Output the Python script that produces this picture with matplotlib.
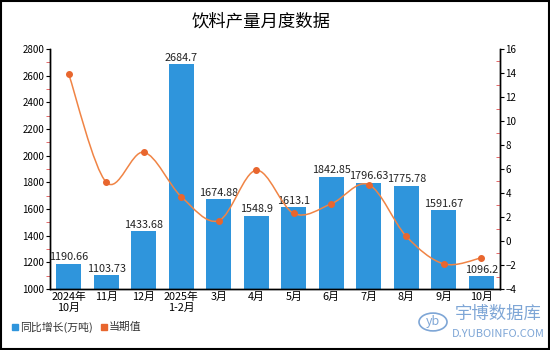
import matplotlib.pyplot as plt
import numpy as np
from matplotlib.path import Path
from matplotlib.patches import PathPatch, Rectangle, Circle
from matplotlib.ticker import MultipleLocator

plt.rcParams['font.family'] = ['Noto Sans CJK SC', 'DejaVu Sans']

months = ['2024年\n10月', '11月', '12月', '2025年\n1-2月', '3月', '4月',
          '5月', '6月', '7月', '8月', '9月', '10月']
output = [1190.66, 1103.73, 1433.68, 2684.7, 1674.88, 1548.9,
          1613.1, 1842.85, 1796.63, 1775.78, 1591.67, 1096.2]
growth = [13.9, 4.9, 7.4, 3.7, 1.7, 5.9, 2.3, 3.1, 4.7, 0.4, -1.9, -1.4]

BAR_COLOR = '#2f95dc'
LINE_COLOR = '#f08445'
DOT_COLOR = '#e8662e'


def smooth_path(xs, ys):
    """Bezier path through the points (Catmull-Rom style control points)."""
    pts = np.column_stack([xs, ys]).astype(float)
    verts = [pts[0]]
    codes = [Path.MOVETO]
    n = len(pts)
    for i in range(n - 1):
        p0 = pts[max(i - 1, 0)]
        p1 = pts[i]
        p2 = pts[i + 1]
        p3 = pts[min(i + 2, n - 1)]
        c1 = p1 + (p2 - p0) / 6
        c2 = p2 - (p3 - p1) / 6
        verts += [c1, c2, p2]
        codes += [Path.CURVE4] * 3
    return Path(verts, codes)


fig = plt.figure(figsize=(5.5, 3.5), dpi=100)
ax = fig.add_axes([0.0909, 0.174, 0.8182, 0.686])
ax2 = ax.twinx()

x = np.arange(len(months))
rects = ax.bar(x, output, width=0.66, color=BAR_COLOR, zorder=2)
for rect, val in zip(rects, output):
    ax.annotate('{:g}'.format(val),
                xy=(rect.get_x() + rect.get_width() / 2, rect.get_height()),
                xytext=(0, 1), textcoords='offset points',
                ha='center', va='bottom', fontsize=7.8, color='#222222')

ax.set_xlim(-0.5, len(months) - 0.5)
ax.set_ylim(1000, 2800)
ax.yaxis.set_major_locator(MultipleLocator(200))
ax.yaxis.set_minor_locator(MultipleLocator(100))
ax.set_xticks(x)
ax.set_xticklabels(months, fontsize=7.8, linespacing=1.1)
ax.tick_params(axis='x', length=0, pad=2)
ax.tick_params(axis='y', which='major', length=3, labelsize=7, pad=1)
ax.tick_params(axis='y', which='minor', length=3, color='#e05050')

ax2.add_patch(PathPatch(smooth_path(x, growth), fill=False,
                        edgecolor=LINE_COLOR, linewidth=1.1, zorder=3))
ax2.plot(x, growth, 'o', color=DOT_COLOR, markersize=4, zorder=4)
ax2.set_ylim(-4, 16)
ax2.yaxis.set_major_locator(MultipleLocator(2))
ax2.yaxis.set_minor_locator(MultipleLocator(1))
ax2.tick_params(axis='y', which='major', length=3, labelsize=7, pad=1)
ax2.tick_params(axis='y', which='minor', length=3, direction='in',
                color='#e05050')

for a in (ax, ax2):
    a.spines['top'].set_visible(False)
    for s in a.spines.values():
        s.set_linewidth(1)

fig.text(0.475, 0.937, '饮料产量月度数据', ha='center', va='center', fontsize=12.5)

# legend
fig.patches.append(Rectangle((12 / 550, 1 - 330 / 350), 6 / 550, 6 / 350,
                             transform=fig.transFigure, color=BAR_COLOR))
fig.text(20 / 550, 1 - 327 / 350, '同比增长(万吨)', va='center', fontsize=7.8,
         color='#333333')
fig.patches.append(Rectangle((101 / 550, 1 - 330 / 350), 6 / 550, 6 / 350,
                             transform=fig.transFigure, color=DOT_COLOR))
fig.text(109 / 550, 1 - 327 / 350, '当期值', va='center', fontsize=7.8,
         color='#333333')

# site mark
mark = '#7ea6d6'
fig.patches.append(Circle((433 / 550, 1 - 322 / 350), 14 / 550,
                          transform=fig.transFigure, fill=False,
                          edgecolor=mark, linewidth=1.2))
fig.text(433 / 550, 1 - 322 / 350, 'yb', ha='center', va='center',
         fontsize=9, style='italic', color=mark)
fig.text(498 / 550, 1 - 314 / 350, '宇博数据库', ha='center', va='center',
         fontsize=12.5, color=mark)
fig.text(498 / 550, 1 - 334 / 350, 'D.YUBOINFO.COM', ha='center',
         va='center', fontsize=8, color=mark)

# outer frame
fig.patches.append(Rectangle((0.001, 0.0015), 0.997, 0.996,
                             transform=fig.transFigure, fill=False,
                             edgecolor='black', linewidth=1.5))

fig.savefig('out.png', dpi=100)
